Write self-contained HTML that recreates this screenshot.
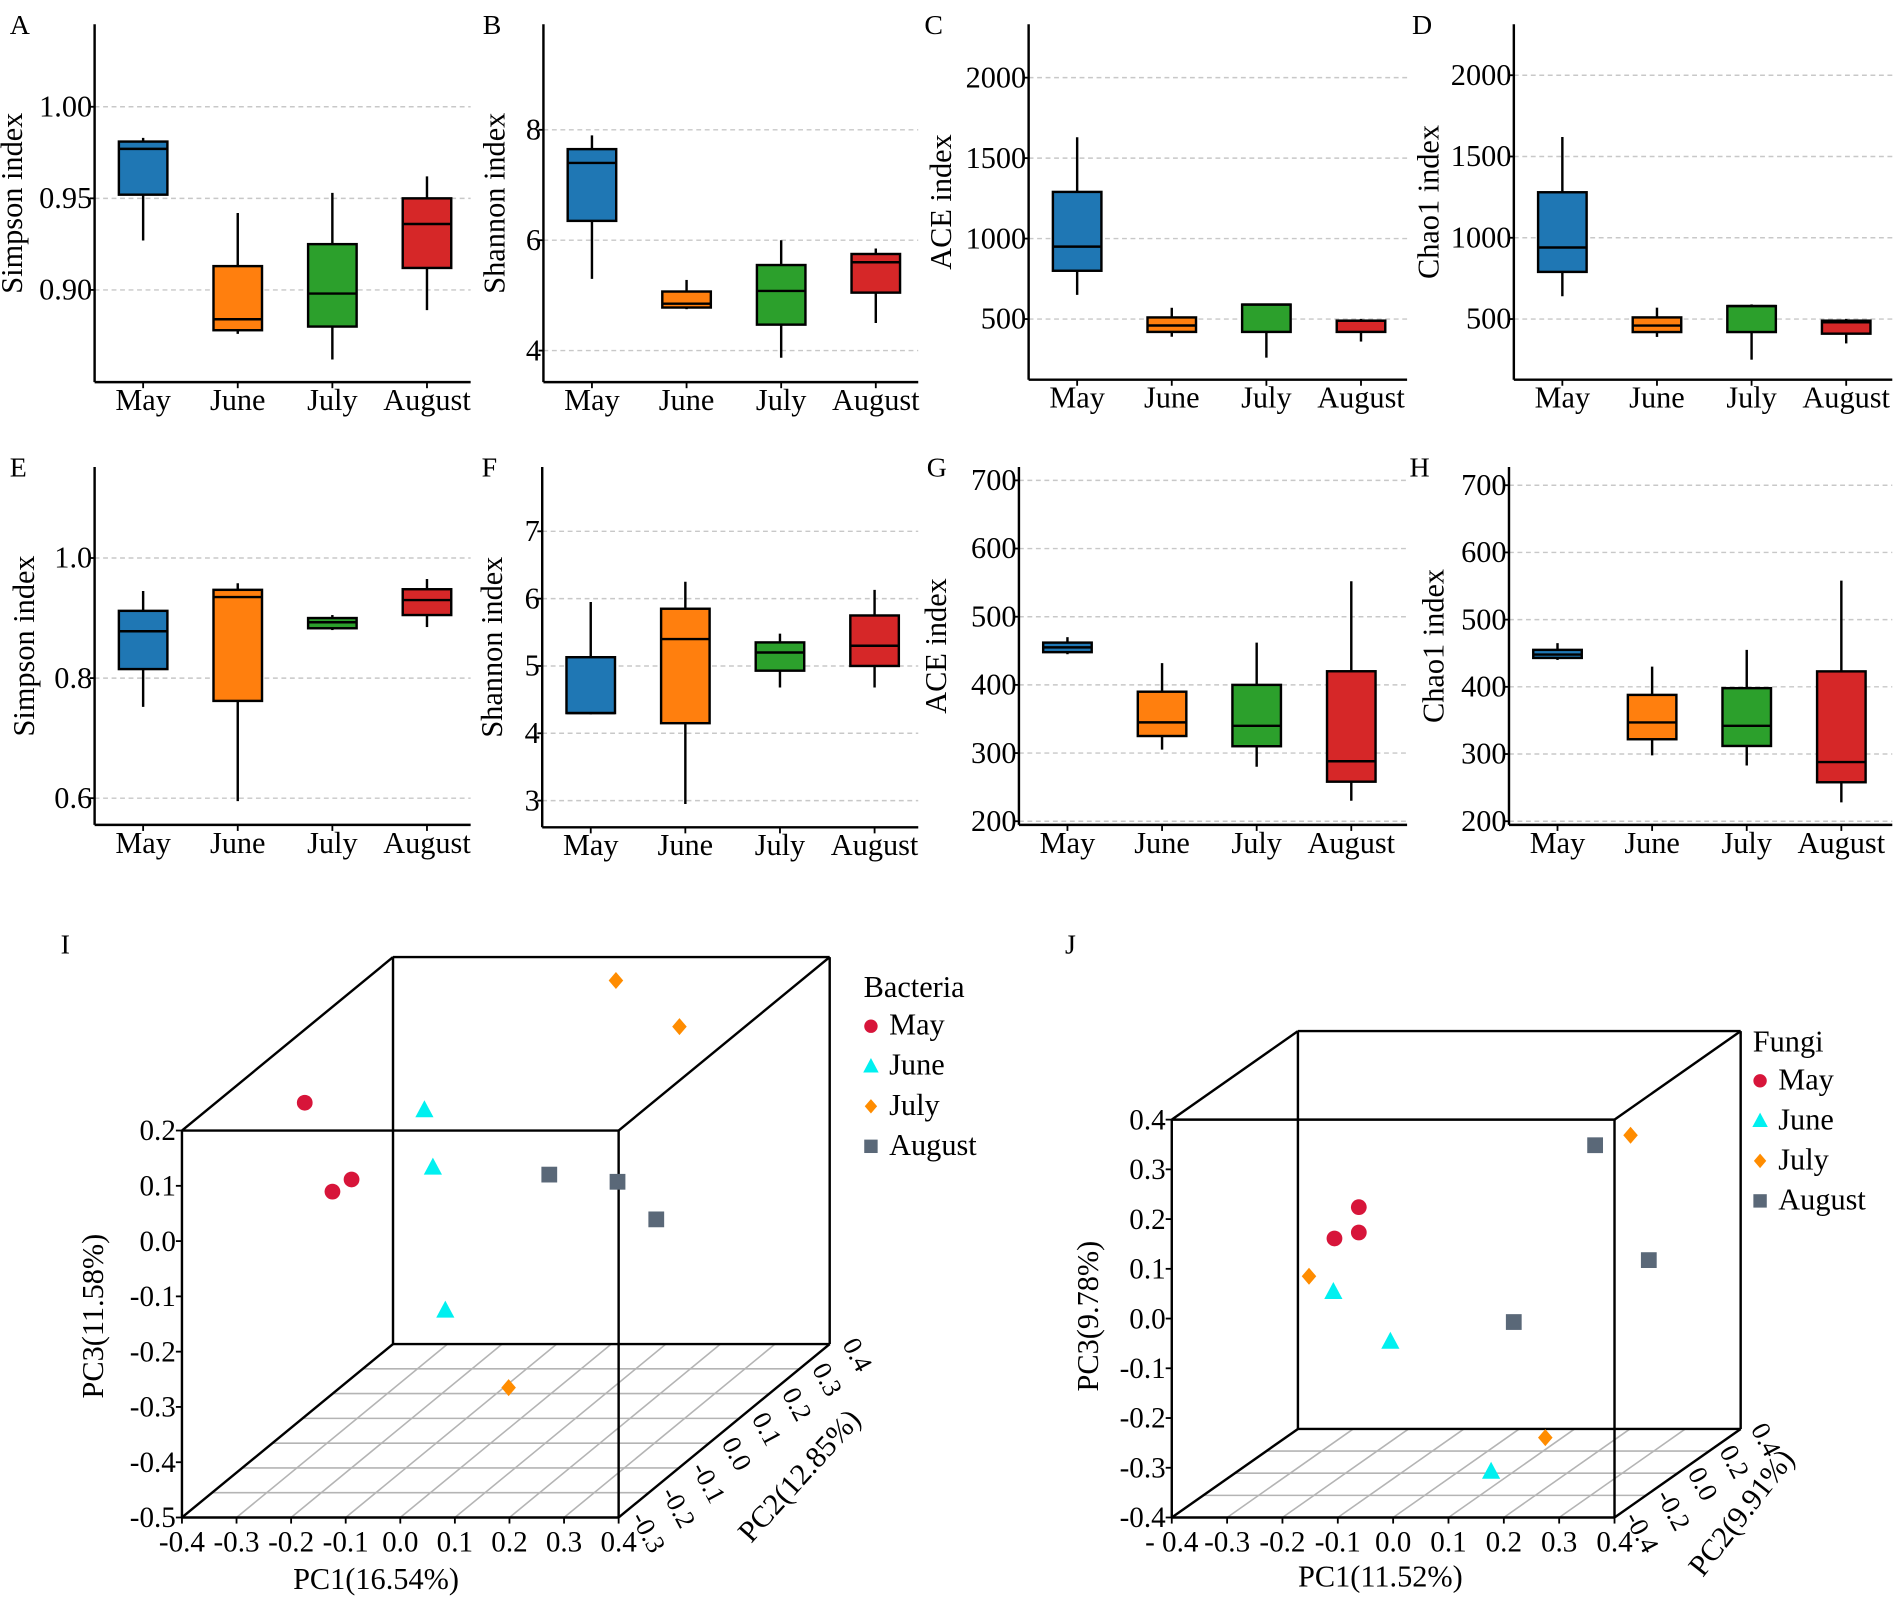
<!DOCTYPE html>
<html><head><meta charset="utf-8"><style>
html,body{margin:0;padding:0;background:#fff;}
svg{display:block;}
svg text{font-family:"Liberation Serif","Times New Roman",serif;}
</style></head><body>
<svg id="fig" width="1902" height="1600" viewBox="0 0 1568 1319" xmlns="http://www.w3.org/2000/svg" font-family="Liberation Serif, serif"></svg>
<script>
const months = ["May","June","July","August"];
const colors = ["#1f77b4","#ff7f0e","#2ca02c","#d62728"];
// Box stats per panel: low whisker, q1, median, q3, high whisker
const aLow=[0.927,0.876,0.862,0.889], aQ1=[0.952,0.878,0.880,0.912], aMed=[0.977,0.884,0.898,0.936], aQ3=[0.981,0.913,0.925,0.950], aHigh=[0.983,0.942,0.953,0.962];
const bLow=[5.3,4.75,3.87,4.5], bQ1=[6.35,4.78,4.47,5.05], bMed=[7.4,4.85,5.08,5.6], bQ3=[7.65,5.07,5.55,5.75], bHigh=[7.9,5.28,6.0,5.85];
const cLow=[650,390,260,360], cQ1=[800,420,420,420], cMed=[950,460,590,490], cQ3=[1290,510,590,490], cHigh=[1630,570,590,500];
const dLow=[640,390,250,350], dQ1=[790,420,420,410], dMed=[940,460,580,480], dQ3=[1280,510,580,490], dHigh=[1620,570,590,500];
const eLow=[0.752,0.595,0.880,0.885], eQ1=[0.815,0.762,0.883,0.905], eMed=[0.878,0.935,0.893,0.930], eQ3=[0.912,0.947,0.900,0.948], eHigh=[0.945,0.958,0.905,0.965];
const fLow=[4.28,2.95,4.68,4.68], fQ1=[4.30,4.15,4.93,5.00], fMed=[4.30,5.40,5.20,5.30], fQ3=[5.13,5.85,5.35,5.75], fHigh=[5.95,6.25,5.48,6.13];
const gLow=[445,305,280,230], gQ1=[448,325,310,258], gMed=[455,345,340,288], gQ3=[462,390,400,420], gHigh=[470,432,462,552];
const hLow=[440,298,283,228], hQ1=[443,322,312,258], hMed=[448,347,342,288], hQ3=[455,388,398,423], hHigh=[465,430,455,558];
const aTicks=[0.90,0.95,1.00], aTickLabels=["0.90","0.95","1.00"];
const bTicks=[4,6,8], bTickLabels=["4","6","8"];
const cTicks=[500,1000,1500,2000], cTickLabels=["500","1000","1500","2000"];
const eTicks=[0.6,0.8,1.0], eTickLabels=["0.6","0.8","1.0"];
const fTicks=[3,4,5,6,7], fTickLabels=["3","4","5","6","7"];
const gTicks=[200,300,400,500,600,700], gTickLabels=["200","300","400","500","600","700"];
// PCA data
const bactGroup=["May","May","May","June","June","June","July","July","July","August","August","August"];
const bactPC1=[-0.396,-0.290,-0.255,-0.232,-0.106,-0.028,0.036,0.180,-0.091,0.052,0.177,0.248];
const bactPC2=[0.1,0.0,0.0,0.2,0.0,-0.1,0.35,0.3,0.224,0.1,0.1,0.1];
const bactPC3=[0.071,-0.045,-0.023,0.013,-0.001,-0.215,0.180,0.119,-0.5,-0.059,-0.072,-0.140];
const fungGroup=["May","May","May","June","June","June","July","July","July","August","August","August"];
const fungPC1=[-0.176,-0.220,-0.176,-0.222,-0.119,0.120,-0.266,0.258,0.104,0.194,0.291,0.104];
const fungPC2=[0,0,0,0,0,-0.2,0,0.2,0.2,0.2,0.2,0];
const fungPC3=[0.135,0.072,0.084,-0.035,-0.135,-0.352,-0.004,0.235,-0.373,0.215,-0.016,-0.096];

const NS="http://www.w3.org/2000/svg";
const svg=document.getElementById("fig");
function mk(tag,attrs,parent,text){const e=document.createElementNS(NS,tag);for(const k in attrs)e.setAttribute(k,attrs[k]);if(tag==="text")e.setAttribute("font-family","Liberation Serif, serif");if(text!==undefined)e.textContent=text;(parent||svg).appendChild(e);return e;}

function boxPanel(p){
  const g=mk("g",{});
  
  
  const ys=v=>p.ya+(v-p.va)*(p.yb-p.ya)/(p.vb-p.va);
  const lab=mk("text",{x:p.x0-70+(p.lx||0),y:p.yTop+8,"font-size":23},g,p.letter);
  
  
  p.ticks.forEach((t,i)=>{
    const y=ys(t);
    const gl=mk("line",{x1:p.x0,x2:p.x1,y1:y,y2:y,stroke:"#c8c8c8","stroke-width":1.2,"stroke-dasharray":"4,3"},g);
    
    
    mk("line",{x1:p.x0-4,x2:p.x0,y1:y,y2:y,stroke:"#000","stroke-width":1.5},g);
    const tl=mk("text",{x:p.x0-2,y:y+8,"font-size":25,"text-anchor":"end"},g,p.tickLabels[i]);
    
    
  });
  mk("line",{x1:p.x0,x2:p.x0,y1:p.yTop,y2:p.yBot,stroke:"#000","stroke-width":2},g);
  mk("line",{x1:p.x0,x2:p.x1,y1:p.yBot,y2:p.yBot,stroke:"#000","stroke-width":2},g);
  const tt=mk("text",{x:0,y:0,"font-size":25,"text-anchor":"middle",transform:`translate(${p.x0+p.tx},${(p.yTop+p.yBot)/2}) rotate(-90)`},g,p.title);
  
  
  months.forEach((m,i)=>{
    const cx=p.x0+40+i*78, w=40;
    mk("line",{x1:cx,x2:cx,y1:p.yBot,y2:p.yBot+5,stroke:"#000","stroke-width":1.5},g);
    const xl=mk("text",{x:cx,y:p.yBot+23,"font-size":25,"text-anchor":"middle"},g,m);
    
    
    const wk=mk("line",{x1:cx,x2:cx,y1:ys(p.low[i]),y2:ys(p.high[i]),stroke:"#000","stroke-width":2},g);
    
    
    const yq3=ys(p.q3[i]), yq1=ys(p.q1[i]);
    const bx=mk("rect",{x:cx-w/2,y:Math.min(yq1,yq3),width:w,height:Math.max(2,Math.abs(yq1-yq3)),fill:colors[i],stroke:"#000","stroke-width":2},g);
    
    
    const md=mk("line",{x1:cx-w/2,x2:cx+w/2,y1:ys(p.med[i]),y2:ys(p.med[i]),stroke:"#000","stroke-width":2},g);
    
    
  });
}
boxPanel({name:"panel-a",letter:"A",x0:78,x1:388,yTop:20,yBot:315,va:1.00,ya:88,vb:0.90,yb:239,ticks:aTicks,tickLabels:aTickLabels,title:"Simpson index",tx:-60,lx:0,low:aLow,q1:aQ1,med:aMed,q3:aQ3,high:aHigh});
boxPanel({name:"panel-b",letter:"B",x0:448,x1:757,yTop:20,yBot:315,va:8,ya:107,vb:4,yb:289,ticks:bTicks,tickLabels:bTickLabels,title:"Shannon index",tx:-32,lx:20,low:bLow,q1:bQ1,med:bMed,q3:bQ3,high:bHigh});
boxPanel({name:"panel-c",letter:"C",x0:848,x1:1160,yTop:20,yBot:313,va:2000,ya:64,vb:500,yb:263,ticks:cTicks,tickLabels:cTickLabels,title:"ACE index",tx:-64,lx:-16,low:cLow,q1:cQ1,med:cMed,q3:cQ3,high:cHigh});
boxPanel({name:"panel-d",letter:"D",x0:1248,x1:1560,yTop:20,yBot:313,va:2000,ya:62,vb:500,yb:263,ticks:cTicks,tickLabels:cTickLabels,title:"Chao1 index",tx:-62,lx:-14,low:dLow,q1:dQ1,med:dMed,q3:dQ3,high:dHigh});
boxPanel({name:"panel-e",letter:"E",x0:78,x1:388,yTop:385,yBot:680,va:1.0,ya:460,vb:0.6,yb:658,ticks:eTicks,tickLabels:eTickLabels,title:"Simpson index",tx:-50,lx:0,low:eLow,q1:eQ1,med:eMed,q3:eQ3,high:eHigh});
boxPanel({name:"panel-f",letter:"F",x0:447,x1:757,yTop:385,yBot:682,va:7,ya:438,vb:3,yb:660,ticks:fTicks,tickLabels:fTickLabels,title:"Shannon index",tx:-33,lx:20,low:fLow,q1:fQ1,med:fMed,q3:fQ3,high:fHigh});
boxPanel({name:"panel-g",letter:"G",x0:840,x1:1160,yTop:385,yBot:680,va:700,ya:396,vb:200,yb:677,ticks:gTicks,tickLabels:gTickLabels,title:"ACE index",tx:-60,lx:-6,low:gLow,q1:gQ1,med:gMed,q3:gQ3,high:gHigh});
boxPanel({name:"panel-h",letter:"H",x0:1244,x1:1560,yTop:385,yBot:680,va:700,ya:400,vb:200,yb:677,ticks:gTicks,tickLabels:gTickLabels,title:"Chao1 index",tx:-54,lx:-12,low:hLow,q1:hQ1,med:hMed,q3:hQ3,high:hHigh});

const markerColor={May:"#d7153a",June:"#00f0f0",July:"#ff8c00",August:"#5a6878"};
function marker(g,grp,x,y,s){
  let e;
  if(grp==="May") e=mk("circle",{cx:x,cy:y,r:6.5*s,fill:markerColor.May},g);
  else if(grp==="June") e=mk("polygon",{points:`${x},${y-8*s} ${x+7.5*s},${y+6*s} ${x-7.5*s},${y+6*s}`,fill:markerColor.June},g);
  else if(grp==="July") e=mk("polygon",{points:`${x},${y-7*s} ${x+6*s},${y} ${x},${y+7*s} ${x-6*s},${y}`,fill:markerColor.July},g);
  else e=mk("rect",{x:x-6.5*s,y:y-6.5*s,width:13*s,height:13*s,fill:markerColor.August},g);
  return e;
}
function pca(p){
  const g=mk("g",{});
  
  
  const P=(a,b,c)=>{const f=(b-p.y0)/(p.y1-p.y0);return [p.fx0+(a-p.x0)/(p.x1-p.x0)*(p.fx1-p.fx0)+f*p.ddx, p.fyb-(c-p.z0)/(p.z1-p.z0)*(p.fyb-p.fyt)-f*p.ddy];};
  const L=(a,b,col,w,nm)=>{const e=mk("line",{x1:a[0],y1:a[1],x2:b[0],y2:b[1],stroke:col,"stroke-width":w},g);};
  p.ptick.forEach(v=>{L(P(p.x0,v,p.z0),P(p.x1,v,p.z0),"#b4b4b4",1.3,'floor-grid-line');});
  p.xtick.forEach(v=>{L(P(v,p.y0,p.z0),P(v,p.y1,p.z0),"#b4b4b4",1.3,'floor-grid-line');});
  const X=[p.x0,p.x1],Y=[p.y0,p.y1],Z=[p.z0,p.z1];
  for(const b of Y)for(const c of Z)L(P(X[0],b,c),P(X[1],b,c),"#000",2,'cube-edge');
  for(const a of X)for(const c of Z)L(P(a,Y[0],c),P(a,Y[1],c),"#000",2,'cube-edge');
  for(const a of X)for(const b of Y)L(P(a,b,Z[0]),P(a,b,Z[1]),"#000",2,'cube-edge');
  p.ztick.forEach((v,i)=>{const q=P(p.x0,p.y0,v);L([q[0]-5,q[1]],q,"#000",1.5,'z-tick');
    const t=mk("text",{x:q[0]-5,y:q[1]+8,"font-size":24,"text-anchor":"end"},g,p.zlab[i]);});
  p.xtick.forEach((v,i)=>{const q=P(v,p.y0,p.z0);L(q,[q[0],q[1]+5],"#000",1.5,'x-tick');
    const t=mk("text",{x:q[0],y:q[1]+28,"font-size":24,"text-anchor":"middle"},g,p.xlab[i]);});
  p.ptick.forEach((v,i)=>{const q=P(p.x1,v,p.z0);
    const t=mk("text",{x:0,y:0,"font-size":22,transform:`translate(${q[0]+p.poff[0]},${q[1]+p.poff[1]}) rotate(62)`},g,p.plab[i]);});
  const t1=mk("text",{x:p.t1[0],y:p.t1[1],"font-size":25,"text-anchor":"middle"},g,p.xtitle);
  const t3=mk("text",{x:0,y:0,"font-size":25,"text-anchor":"middle",transform:`translate(${p.t3[0]},${p.t3[1]}) rotate(-90)`},g,p.ztitle);
  const t2=mk("text",{x:0,y:0,"font-size":25,"text-anchor":"middle",transform:`translate(${p.t2[0]},${p.t2[1]}) rotate(${p.t2[2]})`},g,p.ytitle);
  const lt=mk("text",{x:p.letter[1],y:p.letter[2],"font-size":23},g,p.letter[0]);
  p.grp.forEach((gname,i)=>{const q=P(p.a[i],p.b[i],p.c[i]);const m=marker(g,gname,q[0],q[1],1);
    
    });
  const lg=mk("g",{},g);
  
  
  const lh=mk("text",{x:p.leg[0]-6,y:p.leg[1],"font-size":25},lg,p.legTitle);
  months.forEach((m,i)=>{const y=p.leg[1]+31+i*33;const mm=marker(lg,m,p.leg[0],y-7,0.85);
    const t=mk("text",{x:p.leg[0]+15,y:y,"font-size":25},lg,m);});
}
const pc1Ticks=[-0.4,-0.3,-0.2,-0.1,0,0.1,0.2,0.3,0.4], pc1Labels=["-0.4","-0.3","-0.2","-0.1","0.0","0.1","0.2","0.3","0.4"];
pca({name:"pca-bacteria",letter:["I",50,786],x0:-0.4,x1:0.4,y0:-0.3,y1:0.4,z0:-0.5,z1:0.2,fx0:150,fx1:510,fyt:932,fyb:1251,ddx:174,ddy:143,
  xtick:pc1Ticks,xlab:pc1Labels,ztick:[-0.5,-0.4,-0.3,-0.2,-0.1,0,0.1,0.2],zlab:["-0.5","-0.4","-0.3","-0.2","-0.1","0.0","0.1","0.2"],
  ptick:[-0.3,-0.2,-0.1,0,0.1,0.2,0.3,0.4],plab:["-0.3","-0.2","-0.1","0.0","0.1","0.2","0.3","0.4"],poff:[10,0],
  xtitle:"PC1(16.54%)",ytitle:"PC2(12.85%)",ztitle:"PC3(11.58%)",t1:[310,1310],t3:[85,1085],t2:[665,1222,-48],
  grp:bactGroup,a:bactPC1,b:bactPC2,c:bactPC3,legTitle:"Bacteria",leg:[718,822]});
pca({name:"pca-fungi",letter:["J",878,786],x0:-0.4,x1:0.4,y0:-0.4,y1:0.4,z0:-0.4,z1:0.4,fx0:966,fx1:1331,fyt:923,fyb:1251,ddx:104,ddy:73,
  xtick:pc1Ticks,xlab:["- 0.4","-0.3","-0.2","-0.1","0.0","0.1","0.2","0.3","0.4"],ztick:[-0.4,-0.3,-0.2,-0.1,0,0.1,0.2,0.3,0.4],zlab:["-0.4","-0.3","-0.2","-0.1","0.0","0.1","0.2","0.3","0.4"],
  ptick:[-0.4,-0.2,0,0.2,0.4],plab:["-0.4","-0.2","0.0","0.2","0.4"],poff:[8,0],
  xtitle:"PC1(11.52%)",ytitle:"PC2(9.91%)",ztitle:"PC3(9.78%)",t1:[1138,1308],t3:[905,1085],t2:[1442,1252,-52],
  grp:fungGroup,a:fungPC1,b:fungPC2,c:fungPC3,legTitle:"Fungi",leg:[1451,867]});
</script>
</body></html>
